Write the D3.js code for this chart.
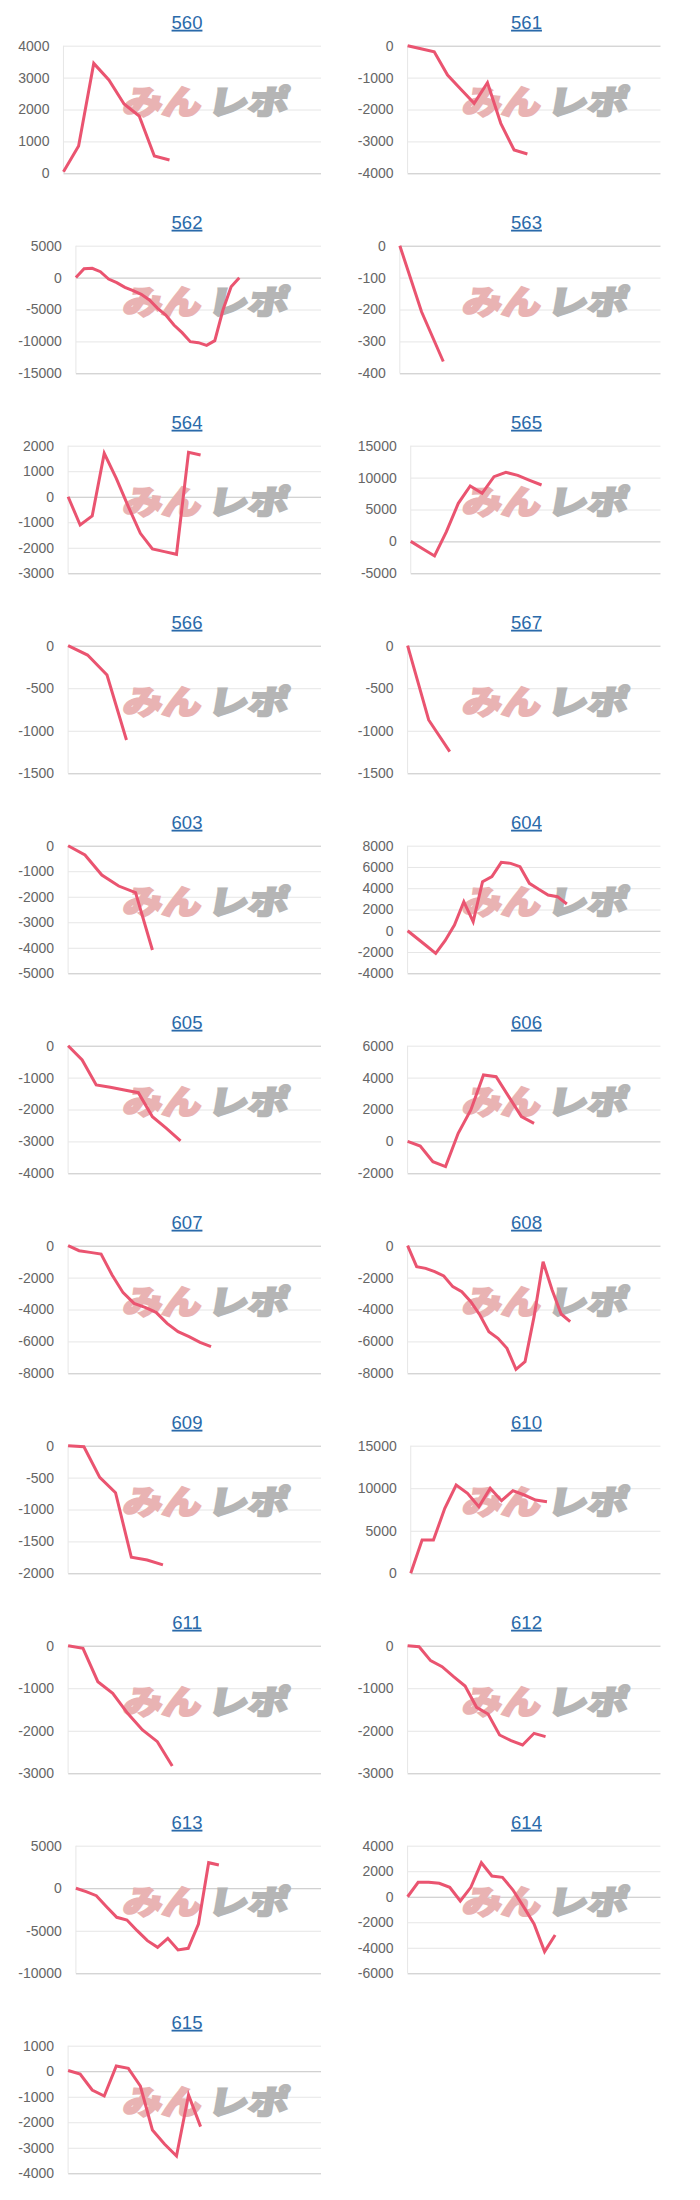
<!DOCTYPE html>
<html><head><meta charset="utf-8">
<script src="https://cdn.jsdelivr.net/npm/d3@7"></script>
<style>
html,body{margin:0;padding:0;background:#fff;}
svg{display:block;}
</style></head>
<body>
<svg id="chart" width="700" height="2200"></svg>
<script>
// ---- data ----
const machines = ["560","561","562","563","564","565","566","567","603","604","605","606","607","608","609","610","611","612","613","614","615"];
// number of x categories on each panel's axis
const slotCounts = [18,20,31,13,22,22,14,13,16,28,19,21,24,29,17,23,18,23,25,25,22];

const v560 = [50, 856, 3446, 2924, 2172, 1796, 543, 418];
const v561 = [0, -94, -188, -919, -1368, -1807, -1159, -2433, -3269, -3394];
const v562 = [0, 1397, 1450, 927, -222, -796, -1527, -2050, -2624, -3512, -4817, -5862, -7428, -8629, -10039, -10196, -10614, -9883, -5078, -1423, -13];
const v563 = [0, -207, -363];
const v564 = [0, -1107, -755, 1700, 721, -389, -1433, -2047, -2150, -2256, 1739, 1634];
const v565 = [0, -1140, -2285, 1527, 5966, 8681, 7533, 10144, 10822, 10350, 9570, 8838];
const v566 = [0, -110, -345, -1108];
const v567 = [0, -873, -1245];
const v603 = [0, -366, -1149, -1580, -1841, -4086];
const v604 = [0, -707, -1413, -2120, -930, 543, 2736, 856, 4616, 5086, 6433, 6339, 6026, 4460, 3896, 3363, 3206, 2517];
const v605 = [0, -449, -1232, -1305, -1389, -1473, -2225, -2590, -2987];
const v606 = [0, -287, -1269, -1582, 506, 1969, 4162, 4057, 2804, 1551, 1133];
const v607 = [0, -313, -418, -522, -1838, -2945, -3614, -3864, -4178, -4867, -5389, -5702, -6057, -6329];
const v608 = [0, -1316, -1420, -1629, -1901, -2569, -2883, -3509, -4345, -5389, -5807, -6433, -7749, -7269, -4449, -1003, -2778, -4282, -4762];
const v609 = [0, -16, -496, -736, -1749, -1791, -1869];
const v610 = [0, 3916, 3916, 7637, 10379, 9399, 7833, 9987, 8538, 9713, 9204, 8616, 8420];
const v611 = [0, -63, -846, -1120, -1590, -1982, -2256, -2828];
const v612 = [0, -23, -352, -493, -728, -948, -1449, -1606, -2099, -2232, -2334, -2060, -2138];
const v613 = [0, -405, -875, -2167, -3420, -3734, -4992, -6162, -6945, -5888, -7258, -7063, -4204, 3003, 2728];
const v614 = [0, 1128, 1128, 1050, 736, -334, 736, 2668, 1624, 1520, 527, -778, -2136, -4303, -2997];
const v615 = [30, -110, -736, -971, 204, 112, -580, -2303, -2851, -3321, -932, -2172];

const t560 = [0, 1000, 2000, 3000, 4000];
const t561 = [-4000, -3000, -2000, -1000, 0];
const t562 = [-15000, -10000, -5000, 0, 5000];
const t563 = [-400, -300, -200, -100, 0];
const t564 = [-3000, -2000, -1000, 0, 1000, 2000];
const t565 = [-5000, 0, 5000, 10000, 15000];
const t566 = [-1500, -1000, -500, 0];
const t567 = [-1500, -1000, -500, 0];
const t603 = [-5000, -4000, -3000, -2000, -1000, 0];
const t604 = [-4000, -2000, 0, 2000, 4000, 6000, 8000];
const t605 = [-4000, -3000, -2000, -1000, 0];
const t606 = [-2000, 0, 2000, 4000, 6000];
const t607 = [-8000, -6000, -4000, -2000, 0];
const t608 = [-8000, -6000, -4000, -2000, 0];
const t609 = [-2000, -1500, -1000, -500, 0];
const t610 = [0, 5000, 10000, 15000];
const t611 = [-3000, -2000, -1000, 0];
const t612 = [-3000, -2000, -1000, 0];
const t613 = [-10000, -5000, 0, 5000];
const t614 = [-6000, -4000, -2000, 0, 2000, 4000];
const t615 = [-4000, -3000, -2000, -1000, 0, 1000];

const seriesList = [v560,v561,v562,v563,v564,v565,v566,v567,v603,v604,v605,v606,v607,v608,v609,v610,v611,v612,v613,v614,v615];
const tickList = [t560,t561,t562,t563,t564,t565,t566,t567,t603,t604,t605,t606,t607,t608,t609,t610,t611,t612,t613,t614,t615];

// ---- drawing ----
const FONT = "'Liberation Sans', Arial, Helvetica, sans-serif";
const svg = d3.select("#chart");
const ROW_H = 200, COL_W = 339.5;

const measurer = svg.append("text").attr("font-family", FONT).attr("font-size", 14).attr("visibility", "hidden");
function textW(s) { measurer.text(s); return measurer.node().getComputedTextLength(); }

machines.forEach((name, i) => {
  const row = Math.floor(i / 2), col = i % 2;
  const ox = col * COL_W, oy = row * ROW_H;
  const ticks = tickList[i];
  const data = seriesList[i];
  const g = svg.append("g");

  const maxW = d3.max(ticks, t => textW(String(t)));
  const top = oy + 45.7, bottom = oy + 173.3;
  const right = ox + 321;
  const left = ox + 18.3 + maxW + 14;

  const y = d3.scaleLinear().domain(d3.extent(ticks)).range([bottom, top]);
  const x = d3.scalePoint().domain(d3.range(slotCounts[i])).range([left, right]);

  // title
  g.append("text")
    .attr("x", ox + 187).attr("y", oy + 28.7)
    .attr("text-anchor", "middle")
    .attr("font-family", FONT).attr("font-size", 18.5)
    .attr("fill", "#2a6aaa")
    .style("text-decoration", "underline")
    .text(name);

  // y axis with gridlines
  const axis = d3.axisLeft(y).tickValues(ticks).tickSize(-(right - left)).tickPadding(14).tickFormat(d => String(d));
  const ag = g.append("g").attr("transform", `translate(${left},0)`).call(axis);
  ag.select(".domain").remove();
  ag.selectAll(".tick line")
    .attr("stroke", d => (d === 0 || d === ticks[0]) ? "#c4c4c4" : "#e6e6e6")
    .attr("stroke-width", 1);
  ag.selectAll(".tick text")
    .attr("font-family", FONT).attr("font-size", 14).attr("fill", "#666");
  ag.attr("font-family", null).attr("font-size", null);
  // left vertical axis line
  g.append("line")
    .attr("x1", left).attr("x2", left).attr("y1", top).attr("y2", bottom)
    .attr("stroke", "#e6e6e6").attr("stroke-width", 1);

  // watermark
  const wm = g.append("g").attr("transform", `translate(${ox + 122},${oy + 114}) skewX(-10)`);
  wm.append("text").text("みん")
    .attr("x", 0).attr("font-family", "'Noto Sans CJK JP', sans-serif").attr("font-weight", 900)
    .attr("font-size", 33).attr("textLength", 78).attr("lengthAdjust", "spacingAndGlyphs")
    .attr("fill", "#e9b3b3").attr("stroke", "#e9b3b3").attr("stroke-width", 2.2).attr("stroke-linejoin", "miter");
  wm.append("text").text("レポ")
    .attr("x", 85).attr("font-family", "'Noto Sans CJK JP', sans-serif").attr("font-weight", 900)
    .attr("font-size", 33).attr("textLength", 80).attr("lengthAdjust", "spacingAndGlyphs")
    .attr("fill", "#b5b5b5").attr("stroke", "#b5b5b5").attr("stroke-width", 2.2).attr("stroke-linejoin", "miter");

  // data line
  const line = d3.line().x((d, k) => x(k)).y(d => y(d));
  g.append("path")
    .datum(data)
    .attr("d", line)
    .attr("fill", "none")
    .attr("stroke", "#ea5470")
    .attr("stroke-width", 3)
    .attr("stroke-linejoin", "miter");
});
measurer.remove();
</script>
</body></html>
